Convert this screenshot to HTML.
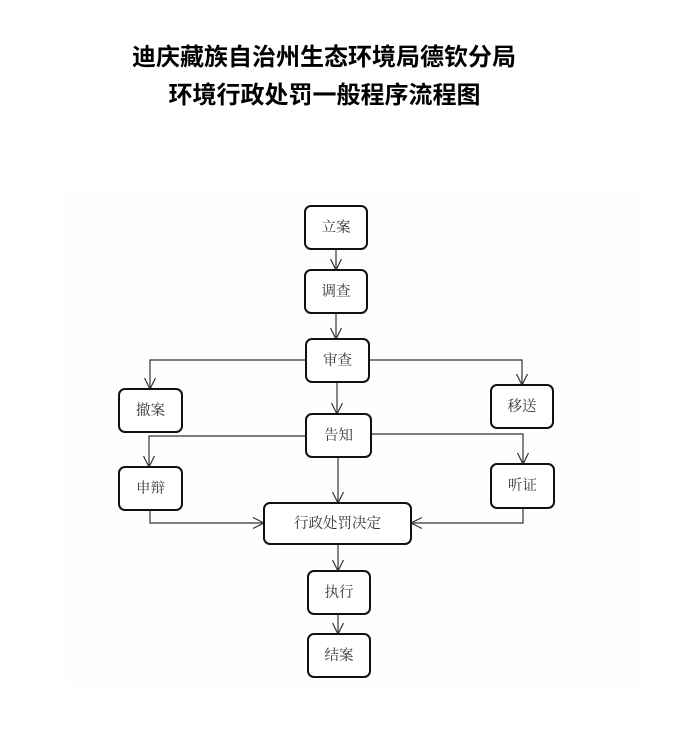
<!DOCTYPE html>
<html>
<head>
<meta charset="utf-8">
<style>
  html,body{margin:0;padding:0;background:#fff;}
  body{width:674px;height:737px;overflow:hidden;position:relative;}
  svg{position:absolute;left:0;top:0;}
  .t{font-family:"Liberation Sans","Noto Sans CJK SC",sans-serif;font-weight:bold;font-size:24px;fill:#000;}
  .l{font-family:"Liberation Serif","Noto Serif CJK SC",serif;font-size:14.5px;fill:#333;}
</style>
</head>
<body>
<svg width="674" height="737" viewBox="0 0 674 737" xmlns="http://www.w3.org/2000/svg">
  <rect x="65" y="190" width="575" height="497" fill="#fefefe"/>
  <text class="t" x="324" y="65" text-anchor="middle">迪庆藏族自治州生态环境局德钦分局</text>
  <text class="t" x="324.5" y="103" text-anchor="middle">环境行政处罚一般程序流程图</text>

  <g fill="none" stroke="#333" stroke-width="1.2">
    <line x1="336" y1="249" x2="336" y2="270"/>
    <polyline points="330.5,259 336,270 341.5,259"/>
    <line x1="336" y1="313" x2="336" y2="339"/>
    <polyline points="330.5,328 336,339 341.5,328"/>
    <polyline points="306,360 150,360 150,389"/>
    <polyline points="144.5,378 150,389 155.5,378"/>
    <polyline points="369,360 522,360 522,385"/>
    <polyline points="516.5,374 522,385 527.5,374"/>
    <line x1="337" y1="382" x2="337" y2="414"/>
    <polyline points="331.5,403 337,414 342.5,403"/>
    <polyline points="306,436 149,436 149,467"/>
    <polyline points="143.5,456 149,467 154.5,456"/>
    <polyline points="371,434 523,434 523,464"/>
    <polyline points="517.5,453 523,464 528.5,453"/>
    <line x1="338" y1="457" x2="338" y2="503"/>
    <polyline points="332.5,492 338,503 343.5,492"/>
    <polyline points="150,510 150,523 264,523"/>
    <polyline points="253,517.5 264,523 253,528.5"/>
    <polyline points="523,508 523,523 411,523"/>
    <polyline points="422,517.5 411,523 422,528.5"/>
    <line x1="338" y1="544" x2="338" y2="571"/>
    <polyline points="332.5,560 338,571 343.5,560"/>
    <line x1="338" y1="614" x2="338" y2="634"/>
    <polyline points="332.5,623 338,634 343.5,623"/>
  </g>

  <g fill="#fff" stroke="#111" stroke-width="2">
    <rect x="305" y="206" width="62" height="43" rx="6"/>
    <rect x="305" y="270" width="62" height="43" rx="6"/>
    <rect x="306" y="339" width="63" height="43" rx="6"/>
    <rect x="119" y="389" width="63" height="43" rx="6"/>
    <rect x="491" y="385" width="62" height="43" rx="6"/>
    <rect x="306" y="414" width="65" height="43" rx="6"/>
    <rect x="119" y="467" width="63" height="43" rx="6"/>
    <rect x="491" y="464" width="63" height="44" rx="6"/>
    <rect x="264" y="503" width="147" height="41" rx="6"/>
    <rect x="308" y="571" width="62" height="43" rx="6"/>
    <rect x="308" y="634" width="62" height="43" rx="6"/>
  </g>

  <g class="l" text-anchor="middle">
    <text x="336" y="232">立案</text>
    <text x="336" y="296">调查</text>
    <text x="337.5" y="365">审查</text>
    <text x="150.5" y="415">撤案</text>
    <text x="522" y="411">移送</text>
    <text x="338.5" y="440">告知</text>
    <text x="150.5" y="493">申辩</text>
    <text x="522.5" y="490">听证</text>
    <text x="337.5" y="528">行政处罚决定</text>
    <text x="339" y="597">执行</text>
    <text x="339" y="660">结案</text>
  </g>
</svg>
</body>
</html>
